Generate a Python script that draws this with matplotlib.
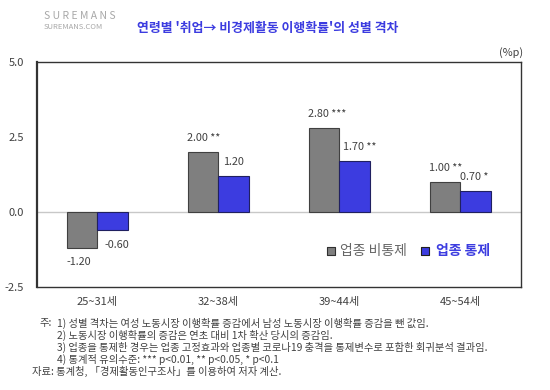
import matplotlib
matplotlib.use('Agg')
import matplotlib.pyplot as plt
import numpy as np

plt.rcParams['font.family'] = ['Noto Sans CJK KR', 'DejaVu Sans']

# data
categories = ['25~31세', '32~38세', '39~44세', '45~54세']
uncontrolled = [-1.20, 2.00, 2.80, 1.00]
controlled = [-0.60, 1.20, 1.70, 0.70]
sig_uncontrolled = ['', ' **', ' ***', ' **']
sig_controlled = ['', '', ' **', ' *']
yticks = [5.0, 2.5, 0.0, -2.5]

notes = [
    '1) 성별 격차는 여성 노동시장 이행확률 증감에서 남성 노동시장 이행확률 증감을 뺀 값임.',
    '2) 노동시장 이행확률의 증감은 연초 대비 1차 확산 당시의 증감임.',
    '3) 업종을 통제한 경우는 업종 고정효과와 업종별 코로나19 충격을 통제변수로 포함한 회귀분석 결과임.',
    '4) 통계적 유의수준: *** p<0.01, ** p<0.05, * p<0.1',
]
source = '자료: 통계청, 「경제활동인구조사」를 이용하여 저자 계산.'

GRAY = '#7f7f7f'
BLUE = '#3c3ce0'
TEXT = '#404040'

fig = plt.figure(figsize=(5.5, 3.9), dpi=100)
ax = fig.add_axes([0.067, 0.264, 0.88, 0.577])

x = np.arange(len(categories))
w = 0.25
ax.bar(x - w / 2, uncontrolled, w, color=GRAY, edgecolor='#404040', linewidth=0.8, zorder=3)
ax.bar(x + w / 2, controlled, w, color=BLUE, edgecolor='#202060', linewidth=0.8, zorder=3)
ax.axhline(0, color='#c8c8c8', linewidth=1, zorder=2)

# value labels
blue_dx = [0.04, 0.04, 0.03, 0.0]
for i in range(len(categories)):
    u, c = uncontrolled[i], controlled[i]
    if u >= 0:
        ax.text(x[i] - w - 0.01, u + 0.3, f'{u:.2f}{sig_uncontrolled[i]}',
                fontsize=7.8, color=TEXT, va='bottom', ha='left')
        ax.text(x[i] + blue_dx[i], c + 0.3, f'{c:.2f}{sig_controlled[i]}',
                fontsize=7.8, color=TEXT, va='bottom', ha='left')
    else:
        ax.text(x[i] - w / 2 - 0.025, u - 0.47, f'{u:.2f}',
                fontsize=7.8, color=TEXT, va='center', ha='center')
        ax.text(x[i] + w / 2 + 0.04, c - 0.5, f'{c:.2f}',
                fontsize=7.8, color=TEXT, va='center', ha='center')

ax.set_xlim(-0.5, 3.5)
ax.set_ylim(-2.5, 5.0)
ax.set_yticks(yticks)
ax.set_yticklabels([f'{t:.1f}' for t in yticks], fontsize=8, color=TEXT)
ax.set_xticks(x)
ax.set_xticklabels(categories, fontsize=8, color=TEXT)
ax.tick_params(length=0, pad=7)
ax.tick_params(axis='y', pad=9)
for s in ax.spines.values():
    s.set_color('#333333')
    s.set_linewidth(1.0)
ax.spines['left'].set_linewidth(1.6)

# legend
lx, ly = 0.607, 0.16
ax.scatter([lx], [ly], marker='s', s=32, color=GRAY, edgecolor='#303030', linewidth=0.8,
           transform=ax.transAxes, clip_on=False, zorder=4)
ax.text(lx + 0.02, ly, '업종 비통제', transform=ax.transAxes, fontsize=10,
        color='#666666', va='center')
ax.scatter([lx + 0.195], [ly], marker='s', s=32, color=BLUE, edgecolor='#202020', linewidth=0.8,
           transform=ax.transAxes, clip_on=False, zorder=4)
ax.text(lx + 0.217, ly, '업종 통제', transform=ax.transAxes, fontsize=10,
        color=BLUE, va='center', fontweight='bold')

# title, unit, logo
fig.text(0.249, 0.928, "연령별 '취업→ 비경제활동 이행확률'의 성별 격차",
         fontsize=9.3, color=BLUE, fontweight='bold', va='center')
fig.text(0.951, 0.866, '(%p)', fontsize=7.8, color=TEXT, ha='right', va='center')
fig.text(0.08, 0.958, 'S U R E M A N S', fontsize=7.5, color='#a8a8a8', va='center')
fig.text(0.08, 0.93, 'SUREMANS.COM', fontsize=5.5, color='#a8a8a8', va='center')

# footnotes
fig.text(0.071, 0.172, '주:', fontsize=7.4, color=TEXT, va='center')
for k, line in enumerate(notes):
    fig.text(0.104, 0.172 - k * 0.0315, line, fontsize=7.4, color=TEXT, va='center')
fig.text(0.058, 0.048, source, fontsize=7.4, color=TEXT, va='center')

fig.savefig('out.png', dpi=100)
